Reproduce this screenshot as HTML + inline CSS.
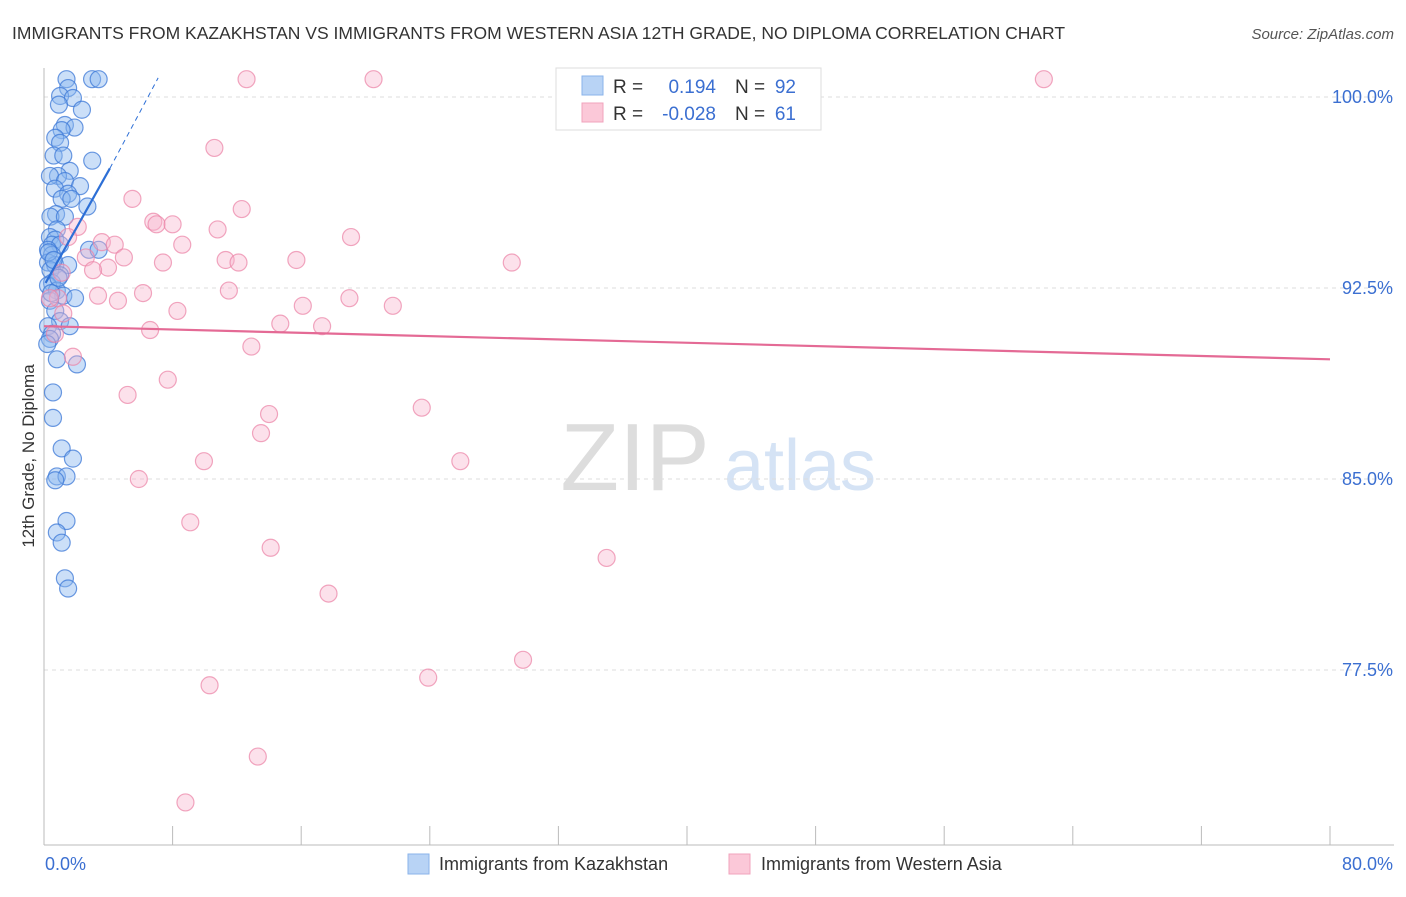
<!DOCTYPE html>
<html><head><meta charset="utf-8"><style>
body{margin:0;background:#fff;font-family:"Liberation Sans",sans-serif;}
svg text{font-family:"Liberation Sans",sans-serif;}
</style></head><body>
<svg id="chart" width="1406" height="892" xmlns="http://www.w3.org/2000/svg">
<text x="12" y="39" font-size="17.5" fill="#333">IMMIGRANTS FROM KAZAKHSTAN VS IMMIGRANTS FROM WESTERN ASIA 12TH GRADE, NO DIPLOMA CORRELATION CHART</text>
<text x="1394" y="39" font-size="15" fill="#555" font-style="italic" text-anchor="end">Source: ZipAtlas.com</text>
<text transform="translate(34,456) rotate(-90)" font-size="17" fill="#333" text-anchor="middle">12th Grade, No Diploma</text>
<g>
<text x="635" y="490" font-size="96" fill="#ddd" font-family="Liberation Serif" text-anchor="middle">ZIP</text>
<text x="800" y="490" font-size="72" fill="#d5e3f5" text-anchor="middle">atlas</text></g>
<g id="grid"></g><g id="axes"></g><g id="pts"></g><g id="trend"></g>
<g>
<rect x="556" y="68" width="265" height="62" fill="#fff" stroke="#ddd"/>
<rect x="582" y="76" width="21" height="19" fill="#b8d3f5" stroke="#8ab3ea"/>
<rect x="582" y="103" width="21" height="19" fill="#fbc8d8" stroke="#f0a3bc"/>
<text x="613" y="93" font-size="19" fill="#333">R =</text><text x="716" y="93" font-size="19" fill="#3b6fd1" text-anchor="end">0.194</text>
<text x="735" y="93" font-size="19" fill="#333">N =</text><text x="796" y="93" font-size="19" fill="#3b6fd1" text-anchor="end">92</text>
<text x="613" y="120" font-size="19" fill="#333">R =</text><text x="716" y="120" font-size="19" fill="#3b6fd1" text-anchor="end">-0.028</text>
<text x="735" y="120" font-size="19" fill="#333">N =</text><text x="796" y="120" font-size="19" fill="#3b6fd1" text-anchor="end">61</text>
</g>
<g>
<rect x="408" y="854" width="21" height="20" fill="#b8d3f5" stroke="#8ab3ea"/>
<text x="439" y="870" font-size="18" fill="#333">Immigrants from Kazakhstan</text>
<rect x="729" y="854" width="21" height="20" fill="#fbc8d8" stroke="#f0a3bc"/>
<text x="761" y="870" font-size="18" fill="#333">Immigrants from Western Asia</text>
</g>
</svg>
<script>
const yTicks=[100,92.5,85,77.5];
const yTickLabels=["100.0%","92.5%","85.0%","77.5%"];
const xTickVals=[0,8,16,24,32,40,48,56,64,72,80];
const xEndLabels=["0.0%","80.0%"];
const blueX=[1.4,2.99,3.4,1.5,1.0,1.8,0.93,2.36,1.3,1.9,1.1,0.7,1.0,0.6,1.2,3.0,1.6,0.87,0.37,1.3,2.24,0.68,1.5,1.1,1.7,2.7,0.75,0.4,1.3,0.8,0.37,0.7,0.5,1.0,0.25,2.8,3.4,0.5,0.25,0.7,1.5,0.4,1.0,0.5,0.25,0.8,1.2,1.93,0.37,0.7,1.0,1.6,0.25,0.5,0.37,0.8,2.05,0.56,0.56,1.1,1.8,0.8,1.4,0.7,1.4,0.8,1.1,1.3,1.5,0.3,0.6,0.9,0.45,0.2];
const blueY=[100.7,100.7,100.7,100.35,100.04,99.96,99.7,99.5,98.9,98.8,98.7,98.4,98.2,97.7,97.7,97.5,97.1,96.9,96.9,96.7,96.5,96.4,96.2,96.0,96.0,95.7,95.4,95.3,95.3,94.8,94.5,94.4,94.2,94.2,94.0,94.0,94.0,93.8,93.5,93.4,93.4,93.2,93.0,92.7,92.6,92.4,92.2,92.1,92.0,91.6,91.2,91.0,91.0,90.7,90.5,89.7,89.5,88.4,87.4,86.2,85.8,85.1,85.1,84.95,83.35,82.9,82.5,81.1,80.7,93.9,93.6,92.9,92.3,90.3];
const pinkX=[12.6,20.5,44,62.2,10.6,5.5,12.3,6.8,7.0,8.0,10.8,2.1,19.1,1.5,3.6,4.4,8.6,2.6,4.97,7.4,11.3,12.1,15.7,29.1,3.98,3.05,1.1,11.5,6.16,3.36,4.6,0.87,19.0,21.7,16.1,8.3,14.7,17.3,6.6,12.9,1.8,7.7,5.2,23.5,14.0,13.5,9.95,25.9,5.9,9.1,14.1,35.0,17.7,29.8,10.3,23.9,13.3,8.8,0.37,0.68,1.2];
const pinkY=[100.7,100.7,100.7,100.7,98.0,96.0,95.6,95.1,95.0,95.0,94.8,94.9,94.5,94.5,94.3,94.2,94.2,93.7,93.7,93.5,93.6,93.5,93.6,93.5,93.3,93.2,93.1,92.4,92.3,92.2,92.0,92.1,92.1,91.8,91.8,91.6,91.1,91.0,90.85,90.2,89.8,88.9,88.3,87.8,87.55,86.8,85.7,85.7,85.0,83.3,82.3,81.9,80.5,77.9,76.9,77.2,74.1,72.3,92.1,90.7,91.5];
const blueTrend=[[0.1,92.7],[4.1,97.2]];
const blueDash=[[4.1,97.2],[7.1,100.75]];
const pinkTrend=[[0,91.0],[80,89.7]];
const NS="http://www.w3.org/2000/svg";
const X=v=>44+v/80*1286, Y=v=>97+(100-v)/7.5*191;
function mk(p,t,a){const e=document.createElementNS(NS,t);for(const k in a)e.setAttribute(k,a[k]);document.getElementById(p).appendChild(e);return e;}
yTicks.forEach((t,i)=>{
 const l=mk('grid','line',{x1:44,x2:1394,y1:Y(t),y2:Y(t),stroke:'#ddd','stroke-dasharray':'4,4'});
 
 
 const tx=mk('grid','text',{x:1393,y:Y(t)+6,'font-size':18,fill:'#3b6fd1','text-anchor':'end'});
 tx.textContent=yTickLabels[i];
 
 
});
const ax=mk('axes','line',{x1:44,x2:1394,y1:845,y2:845,stroke:'#bbb'});


const ay=mk('axes','line',{x1:44,x2:44,y1:68,y2:845,stroke:'#bbb'});


xTickVals.forEach(v=>{
 const t=mk('axes','line',{x1:X(v),x2:X(v),y1:826,y2:845,stroke:'#bbb'});
 
 
});
[[0,'start',45],[80,'end',1393]].forEach((d,i)=>{
 const t=mk('axes','text',{x:d[2],y:870,'font-size':18,fill:'#3b6fd1','text-anchor':d[1]});
 t.textContent=xEndLabels[i];
 
 
});
blueX.forEach((v,i)=>{
 const c=mk('pts','circle',{cx:X(v),cy:Y(blueY[i]),r:8.5,fill:'rgba(140,185,240,0.45)',stroke:'rgba(60,120,215,0.75)','stroke-width':1.2});
 
 
});
pinkX.forEach((v,i)=>{
 const c=mk('pts','circle',{cx:X(v),cy:Y(pinkY[i]),r:8.5,fill:'rgba(248,180,205,0.4)',stroke:'rgba(235,130,165,0.7)','stroke-width':1.2});
 
 
});
const bt=mk('trend','line',{x1:X(blueTrend[0][0]),y1:Y(blueTrend[0][1]),x2:X(blueTrend[1][0]),y2:Y(blueTrend[1][1]),stroke:'#2d6fd6','stroke-width':2.2});


const bd=mk('trend','line',{x1:X(blueDash[0][0]),y1:Y(blueDash[0][1]),x2:X(blueDash[1][0]),y2:Y(blueDash[1][1]),stroke:'#2d6fd6','stroke-width':1,'stroke-dasharray':'5,4'});


const pt=mk('trend','line',{x1:X(pinkTrend[0][0]),y1:Y(pinkTrend[0][1]),x2:X(pinkTrend[1][0]),y2:Y(pinkTrend[1][1]),stroke:'#e46a95','stroke-width':2.2});


</script>
</body></html>
